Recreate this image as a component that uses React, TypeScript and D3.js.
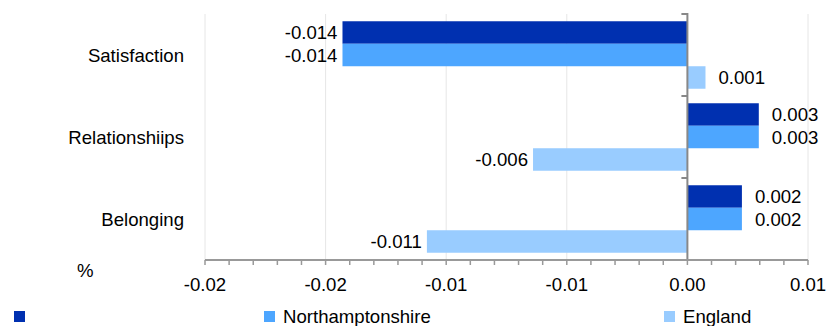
import React from 'react'
import * as d3 from 'd3'

const categories = ['Satisfaction', 'Relationshiips', 'Belonging']
const seriesNames = ['', 'Northamptonshire', 'England']
const seriesColors = ['#0030b0', '#4da6ff', '#99ccff']
// values per series, in category order
const firstValues = [-0.0143, 0.00296, 0.00226]
const northantsValues = [-0.0143, 0.00296, 0.00226]
const englandValues = [0.00075, -0.0064, -0.0108]
const tickValues = [-0.02, -0.015, -0.01, -0.005, 0, 0.005]
const tickLabels = ['-0.02', '-0.02', '-0.01', '-0.01', '0.00', '0.01']

const W = 827
const H = 326
const font = '"Liberation Sans", Arial, sans-serif'
const fs = 18.6

const App = () => {
  const values = [firstValues, northantsValues, englandValues]
  const x = d3.scaleLinear().domain([-0.02, 0.005]).range([205, 808])
  const y0 = d3
    .scaleBand<string>()
    .domain(categories)
    .range([14, 260])
    .paddingInner(0.177)
    .paddingOuter(0.0885)
  const y1 = d3
    .scaleBand<string>()
    .domain(seriesNames.map((_, i) => String(i)))
    .range([0, y0.bandwidth()])

  const minorTicks = d3.range(-0.02, 0.0051, 0.001)
  const zx = x(0)

  return (
    <svg width={W} height={H} style={{ position: 'absolute', left: 0, top: 0 }} fontFamily={font}>
      {/* grid */}
      {tickValues.map((t, i) => (
        <line key={i} x1={x(t)} x2={x(t)} y1={14} y2={260} stroke="#e6e6e6" strokeWidth={1} />
      ))}

      {/* bars */}
      {categories.map((c, ci) => (
        <g key={c} transform={`translate(0, ${y0(c)})`}>
          {values.map((vals, si) => {
            const v = vals[ci]
            const by = y1(String(si))!
            const bx = Math.min(x(v), zx)
            const bw = Math.abs(x(v) - zx)
            return (
              <g key={si}>
                <rect x={bx} y={by} width={bw} height={y1.bandwidth()} fill={seriesColors[si]} />
                <text
                  x={v < 0 ? x(v) - 5 : x(v) + 13}
                  y={by + y1.bandwidth() / 2}
                  dy="0.35em"
                  textAnchor={v < 0 ? 'end' : 'start'}
                  fontSize={fs}
                  fill="#000"
                >
                  {v.toFixed(3)}
                </text>
              </g>
            )
          })}
        </g>
      ))}

      {/* category labels */}
      {categories.map((c) => (
        <text
          key={c}
          x={184}
          y={y0(c)! + y0.bandwidth() / 2}
          dy="0.35em"
          textAnchor="end"
          fontSize={fs}
          fill="#000"
        >
          {c}
        </text>
      ))}

      {/* zero line with category ticks */}
      <line x1={zx} x2={zx} y1={13} y2={260} stroke="#888" strokeWidth={2} />
      {[0, 1, 2].map((i) => {
        const yy = 14 + i * y0.step()
        return <line key={i} x1={zx - 6} x2={zx} y1={yy} y2={yy} stroke="#888" strokeWidth={2} />
      })}

      {/* x axis */}
      <line x1={205} x2={808} y1={260} y2={260} stroke="#999" strokeWidth={2} />
      {minorTicks.map((t, i) => (
        <line key={i} x1={x(t)} x2={x(t)} y1={260} y2={265} stroke="#999" strokeWidth={1.5} />
      ))}
      {tickValues.map((t, i) => (
        <text key={i} x={x(t)} y={284} dy="0.35em" textAnchor="middle" fontSize={fs} fill="#000">
          {tickLabels[i]}
        </text>
      ))}
      <text x={77} y={270} dy="0.35em" fontSize={fs} fill="#000">
        %
      </text>

      {/* legend */}
      {seriesNames.map((s, i) => {
        const lx = [14, 264, 664][i]
        return (
          <g key={i}>
            <rect x={lx} y={311} width={11} height={11} fill={seriesColors[i]} />
            <text x={lx + 19} y={316.5} dy="0.35em" fontSize={fs} fill="#000">
              {s}
            </text>
          </g>
        )
      })}
    </svg>
  )
}

export default App
